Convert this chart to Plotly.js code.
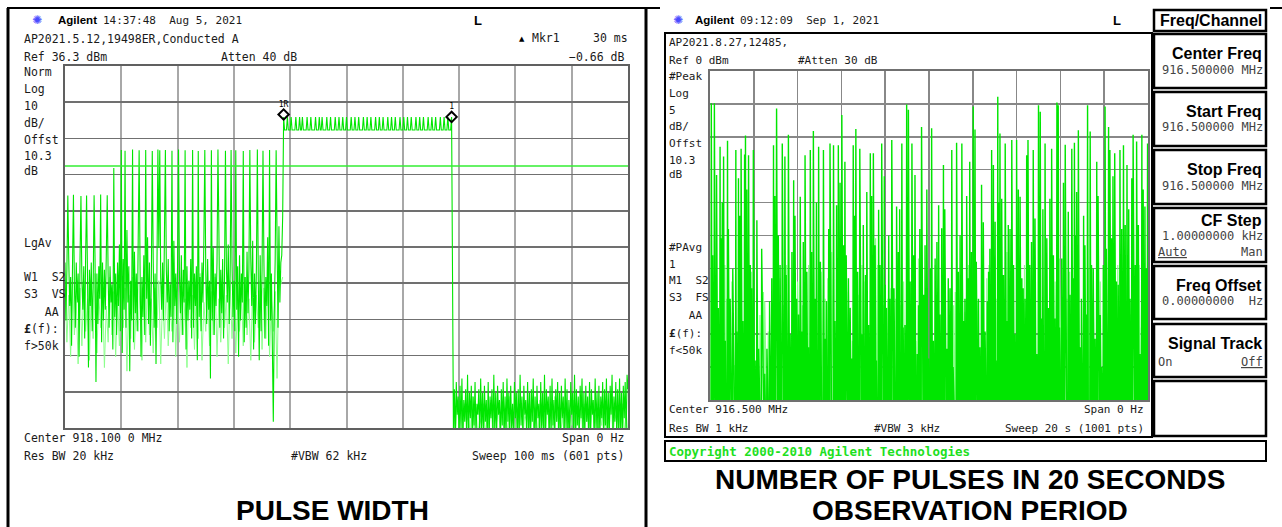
<!DOCTYPE html>
<html><head><meta charset="utf-8">
<script src="https://cdn.plot.ly/plotly-3.0.1.min.js"></script>
<style>html,body{margin:0;padding:0;background:#fff;}#chart{width:1282px;height:527px;}</style>
</head><body><div id="chart"></div>
<script>
// ================= DATA : left screen (PULSE WIDTH), 601 pts over 100 ms =================
const sweepMsL = 100;
const ptsL = 601;
const refL = 36.3;            // dBm, top of screen
const displayLineDb = 8.7;    // green display line
// noise before the pulse, samples 0..232 (dBm)
const noiseA = [
-18,-34,-20,-38,-17,-30,-22,-41,-19,-33,-24,-36,-18,-29,-21,-44,-17,-35,-23,-31,
-19,-39,-16,-32,-22,-47,-20,-30,-18,-37,-25,-33,-17,-51,-21,-35,-19,-28,-23,-40,
-18,-34,-20,-31,-16,-45,-22,-36,-19,-29,-24,-42,-17,-33,-21,-38,-18,-30,-13,-37,
-20,-43,-17,-31,-22,-36,-9,-29,-19,-48,-23,-34,-18,-40,-15,-32,-21,-37,-12,-30,
-19,-44,-22,-33,-16,-38,-20,-28,-11,-35,-18,-41,-23,-30,-17,-36,-21,-46,-19,-32,
-14,-39,-22,-31,-18,-34,-10,-43,-20,-29,-17,-37,-24,-33,-19,-40,-12,-30,-21,-35,
-18,-48,-22,-32,-16,-38,-20,-29,-13,-42,-19,-34,-23,-31,-17,-39,-11,-36,-21,-30,
-19,-45,-16,-33,-22,-37,-18,-29,-12,-41,-20,-35,-17,-31,-23,-50,-19,-34,-14,-38,
-21,-30,-18,-43,-9,-36,-20,-32,-17,-39,-22,-47,-19,-29,-13,-35,-21,-41,-18,-33,
-23,-37,-10,-31,-19,-44,-16,-34,-21,-29,-18,-40,-22,-36,-15,-32,-20,-38,-17,-30,
-12,-42,-21,-35,-19,-31,-23,-45,-16,-37,-20,-33,-18,-39,-22,-30,-11,-41,-19,-34,
-21,-38,-62,-32,-17,-44,-20,-36,-8,-29,-18,-16,-5];
// tall pulses before the main burst (sample index, dBm)
const spikeIdxA = [3,9,17,23,31,38,45,52,60,64,72,79,86,93,99,101,107,114,121,128,136,142,149,156,163,171,177,182,190,197,205,211,218,225];
const spikeDbA  = [0.5,0.7,0.4,0.5,0.6,0.8,0.6,8.1,13.1,12.9,13.2,13.0,13.1,12.8,13.2,13.0,13.1,12.9,13.2,13.0,13.1,12.8,13.1,13.0,13.2,12.9,13.1,13.0,12.8,13.1,13.2,12.9,13.1,13.0];
// main burst: samples 233..412
const pulseStartIdx = 233, pulseEndIdx = 412;
const plateauDb = 18.6;
const teethIdx = [233,237,241,246,250,253,258,262,267,271,274,279,283,288,292,296,300,305,309,313,318,322,326,331,335,339,344,348,352,357,361,365,369,374,378,382,387,391,395,400,404,408,412];
const teethDb = 22.2;
const fallDb = -21;
// noise after the burst, samples 414..600
const noiseC = [
-66,-53,-66,-51,-60,-55,-66,-52,-64,-50,-66,-56,-62,-53,-66,-49,-66,-54,-61,-52,
-66,-55,-63,-51,-66,-57,-60,-53,-66,-50,-64,-54,-66,-52,-62,-56,-66,-51,-66,-55,
-61,-53,-66,-49,-65,-54,-66,-52,-60,-56,-66,-53,-63,-51,-66,-55,-66,-50,-62,-54,
-66,-52,-64,-57,-66,-51,-61,-54,-66,-53,-66,-49,-63,-55,-66,-52,-60,-56,-66,-51,
-65,-54,-66,-53,-62,-50,-66,-55,-66,-52,-61,-57,-66,-51,-64,-54,-66,-49,-66,-53,
-60,-55,-66,-52,-66,-50,-63,-56,-66,-53,-62,-51,-66,-54,-66,-52,-61,-55,-66,-50,
-64,-53,-66,-56,-66,-51,-60,-54,-66,-49,-66,-53,-63,-55,-66,-52,-61,-50,-66,-54,
-66,-52,-62,-55,-66,-51,-66,-53,-60,-56,-66,-50,-64,-54,-66,-52,-66,-55,-61,-51,
-66,-53,-63,-50,-66,-54,-66,-52,-60,-49,-66,-55,-62,-51,-66,-53,-66,-50,-64,-54,
-66,-52,-61,-51,-66,-49,-53];
// second (lighter) trace, every 2nd sample
const lightA = [
-24,-40,-27,-44,-22,-38,-29,-46,-25,-41,-23,-37,-28,-45,-26,-39,-21,-43,-27,-36,
-24,-47,-30,-40,-22,-38,-26,-44,-28,-41,-23,-36,-25,-48,-27,-39,-22,-42,-29,-37,
-24,-45,-26,-40,-21,-38,-28,-43,-25,-36,-23,-46,-27,-39,-24,-41,-30,-37,-22,-44,
-26,-40,-25,-38,-28,-47,-23,-36,-27,-42,-24,-39,-21,-45,-29,-37,-25,-41,-26,-38,
-22,-44,-28,-40,-24,-36,-27,-46,-23,-39,-25,-43,-29,-37,-26,-41,-22,-38,-28,-45,
-24,-40,-27,-36,-23,-42,-25,-39,-21,-44,-28,-37,-26,-50,-20,-24,-22];
const lightC = [
-58,-66,-56,-64,-59,-66,-57,-62,-60,-66,-55,-65,-58,-66,-61,-63,-57,-66,-59,-64,
-56,-66,-60,-62,-58,-66,-57,-65,-59,-66,-55,-63,-61,-66,-58,-64,-56,-66,-60,-62,
-57,-66,-59,-65,-58,-66,-56,-63,-60,-66,-57,-64,-59,-66,-55,-62,-58,-66,-61,-65,
-57,-66,-59,-63,-56,-66,-60,-64,-58,-66,-57,-62,-59,-66,-56,-65,-60,-66,-58,-63,
-57,-66,-59,-64,-56,-66,-60,-62,-58,-66,-57,-65,-59,-66];
// markers (ms, dBm)
const mkrT = [38.83, 68.67];
const mkrDb = [22.9, 22.24];
const mkrLabel = ['1R', '1'];

// ================= DATA : right screen (20 s sweep, 1001 pts) =================
const sweepSR = 20;
const ptsR = 1001;
const floorDbR = -60;  // trace bottom (below screen)
const peakT  = [0.05,0.20,0.46,0.61,0.79,1.17,1.29,1.42,1.57,1.63,1.75,1.98,2.13,2.59,2.89,3.01,3.04,3.30,3.42,3.58,3.81,4.11,4.34,4.57,4.72,4.95,5.17,5.48,5.63,5.86,6.01,6.16,6.54,6.65,6.85,7.15,7.31,7.46,7.69,7.84,8.29,8.52,8.75,8.98,9.06,9.21,9.36,9.66,10.12,10.43,10.65,11.03,11.26,11.49,11.87,12.02,12.10,12.40,12.86,12.94,13.13,13.24,13.47,13.77,14.00,14.15,14.46,14.53,14.76,14.99,15.07,15.30,15.60,15.83,15.90,16.21,16.51,16.64,16.82,17.24,17.35,17.66,18.04,18.19,18.26,18.49,18.72,18.87,19.03,19.25,19.33,19.48,19.71,19.86,19.98];
const peakDb = [-4.9,-4.9,-11.5,-13.0,-10.6,-12.0,-16.3,-11.8,-12.7,-9.8,-12.8,-12.0,-22.7,-42.2,-11.3,-8.5,-5.7,-11.0,-13.0,-9.7,-16.6,-19.1,-12.8,-12.0,-9.1,-11.5,-12.0,-11.0,-11.3,-11.3,-6.7,-13.8,-11.3,-8.8,-11.8,-18.4,-12.5,-12.5,-21.1,-11.0,-10.5,-20.6,-11.0,-5.1,-5.9,-11.0,-15.8,-8.5,-8.7,-20.4,-14.3,-12.0,-10.9,-11.0,-13.8,-5.4,-8.9,-17.3,-12.0,-14.3,-3.9,-9.5,-11.0,-10.5,-10.5,-19.1,-12.8,-10.5,-12.0,-5.2,-6.2,-11.0,-11.8,-4.8,-5.2,-11.2,-11.8,-10.9,-9.0,-5.2,-9.2,-13.8,-5.4,-8.5,-12.0,-12.5,-12.0,-11.3,-14.3,-16.3,-9.7,-10.7,-9.7,-20.6,-11.0];
const midT  = [0.30,0.50,0.91,1.22,1.83,2.21,2.82,3.20,3.73,3.96,4.19,4.41,4.64,4.79,5.25,5.78,6.09,6.32,6.47,6.74,7.00,7.23,7.53,7.76,7.99,8.22,8.60,8.90,9.13,9.51,9.82,9.97,10.27,10.58,10.81,10.88,11.34,11.64,11.80,11.95,12.25,12.56,12.71,13.01,13.32,13.62,13.85,14.23,14.38,14.61,14.84,15.14,15.37,15.52,15.75,16.06,16.36,16.59,16.74,16.97,17.12,17.43,17.58,17.81,17.96,18.34,18.64,18.95,19.18,19.41,19.56,19.71,19.86];
const midDb = [-15.8,-25.4,-34.6,-39.6,-29.5,-42.2,-31.5,-29.5,-27.5,-34.6,-39.6,-30.5,-27.5,-34.6,-40.7,-20.4,-26.5,-31.5,-43.7,-30.5,-23.4,-38.6,-26.5,-29.5,-32.5,-34.6,-27.5,-38.6,-32.0,-35.6,-26.5,-43.7,-28.5,-23.9,-42.2,-31.5,-30.5,-34.6,-31.5,-27.5,-34.6,-39.6,-30.5,-22.9,-19.4,-23.4,-29.5,-31.5,-34.6,-29.5,-22.4,-37.6,-25.4,-19.4,-37.6,-28.5,-21.4,-31.5,-18.4,-34.6,-26.5,-29.5,-40.7,-37.1,-29.5,-25.4,-32.5,-23.4,-34.6,-29.5,-23.4,-21.4,-35.6];
const lowT  = [0.12,0.38,0.55,0.70,0.84,1.04,1.35,1.50,1.68,1.90,2.05,2.35,2.50,2.72,2.96,3.12,3.48,3.66,3.88,4.05,4.27,4.50,4.86,5.03,5.32,5.42,5.70,5.94,6.22,6.40,6.60,6.94,7.10,7.38,7.60,7.72,7.95,8.05,8.15,8.40,8.66,8.82,9.30,9.45,9.58,9.75,9.90,10.05,10.20,10.35,10.50,10.72,10.95,11.10,11.42,11.58,11.72,12.15,12.32,12.48,12.65,12.78,13.05,13.18,13.40,13.55,13.70,13.92,14.08,14.30,14.68,14.92,15.20,15.45,15.68,15.96,16.14,16.44,16.70,16.90,17.05,17.20,17.50,17.72,17.88,18.10,18.28,18.40,18.56,18.80,19.00,19.12,19.28,19.50,19.64,19.78,19.93];
const lowDb = [-28,-36,-20,-41,-24,-30,-22,-38,-18,-33,-44,-27,-46,-35,-19,-25,-31,-40,-22,-37,-26,-42,-20,-29,-35,-24,-38,-17,-28,-36,-22,-40,-31,-19,-44,-27,-16,-36,-25,-33,-21,-39,-28,-43,-24,-34,-18,-30,-41,-26,-37,-21,-33,-45,-25,-38,-19,-29,-42,-23,-35,-27,-44,-20,-31,-38,-24,-40,-18,-33,-26,-43,-21,-36,-28,-39,-17,-34,-25,-42,-22,-37,-30,-19,-45,-27,-36,-16,-32,-24,-40,-21,-35,-27,-43,-18,-30];
const lightT  = [0.68,0.76,0.87,0.99,1.11,1.90,2.28,2.44,2.66,3.20,3.35,3.50,3.65,3.76,4.00,4.22,4.49,4.61,5.07,5.25,5.37,5.56,5.74,6.32,6.93,7.08,7.38,7.56,7.66,7.91,8.11,8.37,8.48,8.68,8.83,9.51,9.63,9.82,10.27,11.11,11.19,11.34,11.52,11.64,11.80,12.63,12.74,12.83,13.01,13.09,13.32,13.55,13.65,14.35,14.61,15.52,15.75,15.95,16.29,16.41,17.27,17.50,17.81,18.42,18.61,18.80,18.98,19.10,19.41,19.59,19.74,
  0.25,0.55,1.30,1.45,1.70,2.00,2.50,2.95,3.10,3.55,3.90,4.30,4.80,5.00,5.45,5.90,6.10,6.50,6.80,7.20,7.45,7.80,8.00,8.25,8.55,9.00,9.20,9.40,9.70,10.10,10.40,10.70,10.90,11.25,11.45,11.90,12.20,12.50,12.90,13.20,13.45,13.80,14.10,14.45,14.80,15.10,15.40,15.85,16.10,16.50,16.85,17.10,17.40,17.65,18.00,18.20,18.50,18.70,18.90,19.20,19.50,19.70,19.90];
const lightDb = [-29.5,-34.6,-40.7,-32.0,-44.7,-30.5,-37.1,-33.6,-39.6,-31.5,-35.6,-29.5,-44.7,-38.6,-32.0,-35.6,-29.5,-33.6,-30.5,-34.6,-31.5,-27.5,-40.7,-33.6,-29.5,-32.0,-34.6,-25.4,-29.5,-35.6,-34.6,-37.6,-34.6,-35.6,-32.0,-28.5,-26.5,-39.6,-29.5,-35.6,-33.6,-32.0,-29.5,-36.6,-29.5,-31.5,-29.5,-30.5,-28.5,-34.6,-32.5,-27.5,-31.5,-29.5,-34.6,-29.5,-32.0,-28.5,-34.6,-30.5,-30.0,-34.6,-32.0,-35.6,-29.5,-34.6,-32.0,-40.7,-34.6,-29.5,-36.6,
  -38,-42,-36,-45,-33,-40,-35,-43,-37,-41,-36,-44,-38,-42,-35,-46,-37,-41,-34,-45,-36,-39,-43,-33,-40,-44,-35,-41,-37,-46,-34,-42,-38,-43,-36,-40,-35,-45,-33,-41,-37,-43,-36,-40,-34,-44,-38,-35,-42,-37,-45,-34,-40,-36,-43,-38,-41,-35,-44,-37,-42,-39,-36];

// ================= BUILD TRACES =================
const dtL = sweepMsL / (ptsL - 1);
const leftY = [];
for (let i = 0; i < ptsL; i++) {
  if (i < pulseStartIdx) leftY.push(noiseA[i]);
  else if (i <= pulseEndIdx) leftY.push(plateauDb);
  else if (i === pulseEndIdx + 1) leftY.push(fallDb);
  else leftY.push(noiseC[i - pulseEndIdx - 2]);
}
spikeIdxA.forEach((k, j) => { leftY[k] = spikeDbA[j]; });
teethIdx.forEach(k => { leftY[k] = teethDb; });
const leftX = leftY.map((_, i) => i * dtL);

const lightX = [], lightY = [];
lightA.forEach((v, j) => { lightX.push(2 * j * dtL); lightY.push(v); });
lightX.push(null); lightY.push(null);
lightC.forEach((v, j) => { lightX.push((pulseEndIdx + 2 + 2 * j) * dtL); lightY.push(v); });

function spikeTrace(ts, dbs) {
  const v = new Array(ptsR).fill(floorDbR);
  ts.forEach((t, k) => {
    const i = Math.round(t / sweepSR * (ptsR - 1));
    if (dbs[k] > v[i]) v[i] = dbs[k];
  });
  return { x: v.map((_, i) => i * sweepSR / (ptsR - 1)), y: v };
}
const rBright = spikeTrace(peakT.concat(midT, lowT), peakDb.concat(midDb, lowDb));
const rLight = spikeTrace(lightT, lightDb);

const G = '#00e600', GL = '#8cff8c';
const traces = [
  { x: lightX, y: lightY, xaxis: 'x', yaxis: 'y', mode: 'lines', line: { color: GL, width: 1 }, connectgaps: false, hoverinfo: 'skip' },
  { x: leftX, y: leftY, xaxis: 'x', yaxis: 'y', mode: 'lines', line: { color: G, width: 1.1 }, hoverinfo: 'skip' },
  { x: mkrT, y: mkrDb, xaxis: 'x', yaxis: 'y', mode: 'markers+text', text: mkrLabel, textposition: 'top center',
    textfont: { family: 'DejaVu Sans Mono', size: 8, color: '#000' },
    marker: { symbol: 'diamond-open', size: 8, color: '#000', line: { width: 2, color: '#000' } }, cliponaxis: false },
  { x: rLight.x, y: rLight.y, xaxis: 'x2', yaxis: 'y2', mode: 'lines', line: { color: GL, width: 1.2 }, hoverinfo: 'skip' },
  { x: rBright.x, y: rBright.y, xaxis: 'x2', yaxis: 'y2', mode: 'lines', line: { color: G, width: 1.4 }, hoverinfo: 'skip' }
];

// ================= LAYOUT =================
const W = 1282, H = 527;
const px = x => x / W, py = y => 1 - y / H;
const ax = (dom, rng, dtick, gc, gw, lc) => ({
  domain: dom, range: rng, dtick: dtick, tick0: rng[0], showgrid: true, gridcolor: gc, gridwidth: gw,
  zeroline: false, showticklabels: false, ticks: '', showline: true, linecolor: lc, linewidth: 2, mirror: true, fixedrange: true
});

const ann = [];
function T(text, x, y, font, anchor) {
  ann.push({ text: text, x: px(x), y: py(y), xref: 'paper', yref: 'paper', xanchor: anchor || 'left', yanchor: 'middle',
    showarrow: false, font: font, borderpad: 0 });
}
const monoL = { family: 'DejaVu Sans Mono', size: 11.5, color: '#1a1a1a' };
const monoR = { family: 'DejaVu Sans Mono', size: 11, color: '#1a1a1a' };
const mono11 = { family: 'DejaVu Sans Mono', size: 11, color: '#1a1a1a' };
const sansB = { family: 'Liberation Sans', size: 11.5, color: '#000' };
const icon = { family: 'DejaVu Sans', size: 12, color: '#4a4aff' };
const keyB = { family: 'Liberation Sans', size: 16, color: '#000' };
const keyV = { family: 'DejaVu Sans Mono', size: 12, color: '#444' };
const titleF = { family: 'Liberation Sans', size: 28, color: '#000' };

// left screen texts
T('✺', 37, 20, icon, 'center');
T('<b>Agilent</b>', 57, 20, sansB);
T('14:37:48  Aug 5, 2021', 102, 20, mono11);
T('<b>L</b>', 478, 20, { family: 'Liberation Sans', size: 13, color: '#000' }, 'center');
T('AP2021.5.12,19498ER,Conducted A', 23, 39, monoL);
T('Ref 36.3 dBm', 23, 57, monoL);
T('Atten 40 dB', 220, 57, monoL);
T('▲', 522, 39, { family: 'DejaVu Sans', size: 7, color: '#000' }, 'center');
T('Mkr1', 531, 38, monoL);
T('30 ms', 629, 38, monoL, 'right');
T('−0.66 dB', 625, 57, monoL, 'right');
[['Norm',72],['Log',89],['10',106],['dB/',123],['Offst',140],['10.3',156],['dB',171],['LgAv',243],
 ['W1  S2',277],['S3  VS',294],['   AA',312],['<b>£</b>(f):',329],['f&gt;50k',346]].forEach(r => T(r[0], 23, r[1], monoL));
T('Center 918.100 0 MHz', 23, 438, monoL);
T('Span 0 Hz', 625, 438, monoL, 'right');
T('Res BW 20 kHz', 23, 456, monoL);
T('#VBW 62 kHz', 290, 456, monoL);
T('Sweep 100 ms (601 pts)', 625, 456, monoL, 'right');
T('<b>PULSE WIDTH</b>', 332, 510, titleF, 'center');

// right screen texts
T('✺', 678, 20, icon, 'center');
T('<b>Agilent</b>', 694, 20, sansB);
T('09:12:09  Sep 1, 2021', 739, 20, mono11);
T('<b>L</b>', 1117, 20, { family: 'Liberation Sans', size: 13, color: '#000' }, 'center');
T('AP2021.8.27,12485,', 668, 43, monoR);
T('Ref 0 dBm', 668, 61, monoR);
T('#Atten 30 dB', 797, 61, monoR);
[['#Peak',76],['Log',93],['5',110],['dB/',127],['Offst',144],['10.3',160],['dB',175],['#PAvg',247],
 ['1',264],['M1  S2',280],['S3  FS',297],['   AA',315],['<b>£</b>(f):',333],['f&lt;50k',350]].forEach(r => T(r[0], 668, r[1], monoR));
T('Center 916.500 MHz', 668, 409, monoR);
T('Span 0 Hz', 1145, 409, monoR, 'right');
T('Res BW 1 kHz', 668, 428, monoR);
T('#VBW 3 kHz', 873, 428, monoR);
T('Sweep 20 s (1001 pts)', 1145, 428, monoR, 'right');
T('<b>Copyright 2000-2010 Agilent Technologies</b>', 668, 451, { family: 'DejaVu Sans Mono', size: 12.5, color: '#1ee01e' });
// softkeys
T('<b>Freq/Channel</b>', 1263, 20, keyB, 'right');
T('<b>Center Freq</b>', 1263, 53, keyB, 'right');
T('916.500000 MHz', 1264, 70, keyV, 'right');
T('<b>Start Freq</b>', 1263, 111, keyB, 'right');
T('916.500000 MHz', 1264, 127, keyV, 'right');
T('<b>Stop Freq</b>', 1263, 169, keyB, 'right');
T('916.500000 MHz', 1264, 186, keyV, 'right');
T('<b>CF Step</b>', 1263, 220, keyB, 'right');
T('1.00000000 kHz', 1264, 236, keyV, 'right');
T('<span style="text-decoration:underline">Auto</span>', 1157, 252, keyV);
T('Man', 1264, 252, keyV, 'right');
T('<b>Freq Offset</b>', 1263, 285, keyB, 'right');
T('0.00000000  Hz', 1264, 301, keyV, 'right');
T('<b>Signal Track</b>', 1263, 343, keyB, 'right');
T('On', 1157, 362, keyV);
T('<span style="text-decoration:underline">Off</span>', 1264, 362, keyV, 'right');
T('<b>NUMBER OF PULSES IN 20 SECONDS</b>', 970, 479, titleF, 'center');
T('<b>OBSERVATION PERIOD</b>', 970, 510, titleF, 'center');

const shapes = [];
function L(x0, y0, x1, y1, w, c) { shapes.push({ type: 'line', xref: 'paper', yref: 'paper', x0: px(x0), y0: py(y0), x1: px(x1), y1: py(y1), line: { color: c || '#000', width: w } }); }
function R(x0, y0, x1, y1, w) { shapes.push({ type: 'rect', xref: 'paper', yref: 'paper', x0: px(x0), y0: py(y0), x1: px(x1), y1: py(y1), line: { color: '#000', width: w } }); }
L(8, 8, 8, 527, 3);
L(7, 8, 646, 8, 2);
L(646, 8, 660, 8, 2);
L(646, 8, 646, 527, 3);
L(1270, 8, 1282, 8, 2);
R(665, 33, 1152, 437, 2);
R(665, 441, 1266, 461, 2);
[[10,31],[34,88],[92,146],[150,204],[208,262],[266,319],[324,377],[381,436]].forEach(b => R(1154, b[0], 1266, b[1], 2.5));
shapes.push({ type: 'line', xref: 'x', yref: 'y', x0: 0, x1: sweepMsL, y0: displayLineDb, y1: displayLineDb, line: { color: '#33ee33', width: 1.5 } });

const layout = {
  width: W, height: H, margin: { l: 0, r: 0, t: 0, b: 0 }, paper_bgcolor: '#fff', plot_bgcolor: '#fff', showlegend: false,
  xaxis: ax([px(65), px(628)], [0, sweepMsL], 10, '#a8a8a8', 2, '#606060'),
  yaxis: Object.assign(ax([py(428), py(66)], [refL - 100, refL], 10, '#707070', 1.5, '#606060'), { anchor: 'x' }),
  xaxis2: Object.assign(ax([px(710), px(1148)], [0, sweepSR], 2, '#888888', 1.5, '#707070'), { anchor: 'y2' }),
  yaxis2: Object.assign(ax([py(400), py(71)], [-50, 0], 5, '#888888', 1.5, '#707070'), { anchor: 'x2' }),
  annotations: ann, shapes: shapes
};
layout.xaxis.anchor = 'y';
Plotly.newPlot('chart', traces, layout, { staticPlot: true });
</script>
</body></html>
